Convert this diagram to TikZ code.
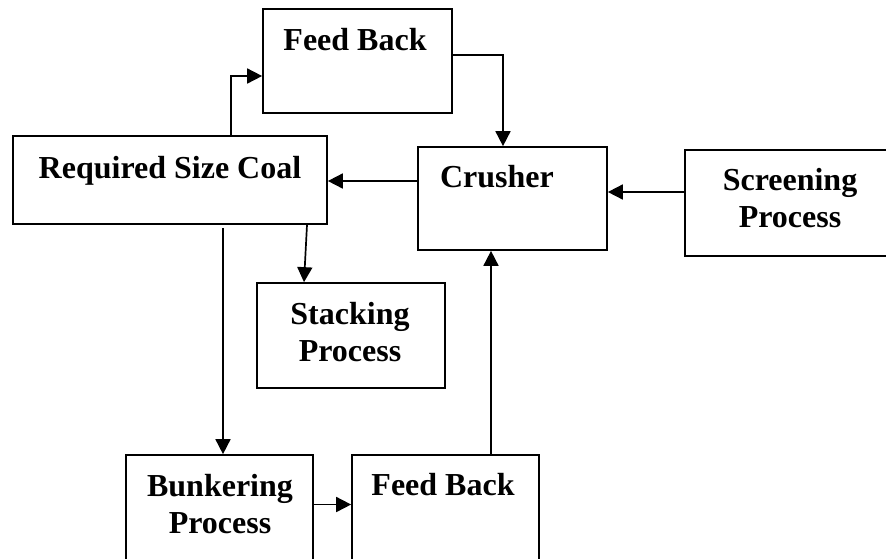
\documentclass[tikz,border=0pt]{standalone}
\usepackage{fontspec}
\setmainfont{Liberation Serif}
\usetikzlibrary{arrows.meta}

\begin{document}
\begin{tikzpicture}[x=1pt,y=-1pt,line width=1.7pt,
    box/.style={draw,rectangle,inner sep=0pt},
    lbl/.style={font=\fontsize{32}{37}\selectfont\bfseries,align=center,anchor=base,inner sep=0pt},
    arr/.style={-{Triangle[length=15pt,width=15pt]}}]

        \useasboundingbox (0,0) rectangle (886,558);

        \begin{scope}[every node/.style={box}]
          \node[minimum width=189pt,minimum height=104pt] (fbtop)   at (357.5,61)  {};
          \node[minimum width=314pt,minimum height=88pt]  (coal)    at (170,180)   {};
          \node[minimum width=189pt,minimum height=103pt] (crusher) at (512.5,198.5) {};
          \node[minimum width=220pt,minimum height=106pt] (screen)  at (795,203)   {};
          \node[minimum width=188pt,minimum height=105pt] (stack)   at (351,335.5) {};
          \node[minimum width=187pt,minimum height=116pt] (bunker)  at (219.5,513) {};
          \node[minimum width=187pt,minimum height=116pt] (fbbot)   at (445.5,513) {};
        \end{scope}

        % two-line labels sit on the baseline of their last line
        \begin{scope}[every node/.style={lbl}]
          \node (fbtop text)   at (355,50)  {Feed Back};
          \node (coal text)    at (170,178) {Required Size Coal};
          \node (crusher text) at (497,187) {Crusher};
          \node (screen text)  at (790,227) {Screening\\Process};
          \node (stack text)   at (350,361) {Stacking\\Process};
          \node (bunker text)  at (220,533) {Bunkering\\Process};
          \node (fbbot text)   at (443,495) {Feed Back};
        \end{scope}

        \begin{scope}[every path/.style={arr}]
          \draw ([xshift=61pt]coal.north) |- ([yshift=-15pt]fbtop.west);
          \draw ([yshift=6pt]fbtop.east) -| ([xshift=-9.5pt]crusher.north);
          \draw ([yshift=17.5pt]crusher.west) -- ([yshift=17.5pt]crusher.west -| coal.east);
          \draw ([yshift=11pt]screen.west) -- ([yshift=11pt]screen.west -| crusher.east);
          \draw ([xshift=137pt]coal.south) -- ([xshift=-47pt]stack.north);
          \draw ([xshift=53pt,yshift=-3pt]coal.south) -- ([xshift=3.5pt]bunker.north);
          \draw ([yshift=8.5pt]bunker.east) -- ([yshift=8.5pt]bunker.east -| fbbot.west);
          \draw ([xshift=45.5pt]fbbot.north) -- ([xshift=-21.5pt]crusher.south);
        \end{scope}

      \end{tikzpicture}
\end{document}
